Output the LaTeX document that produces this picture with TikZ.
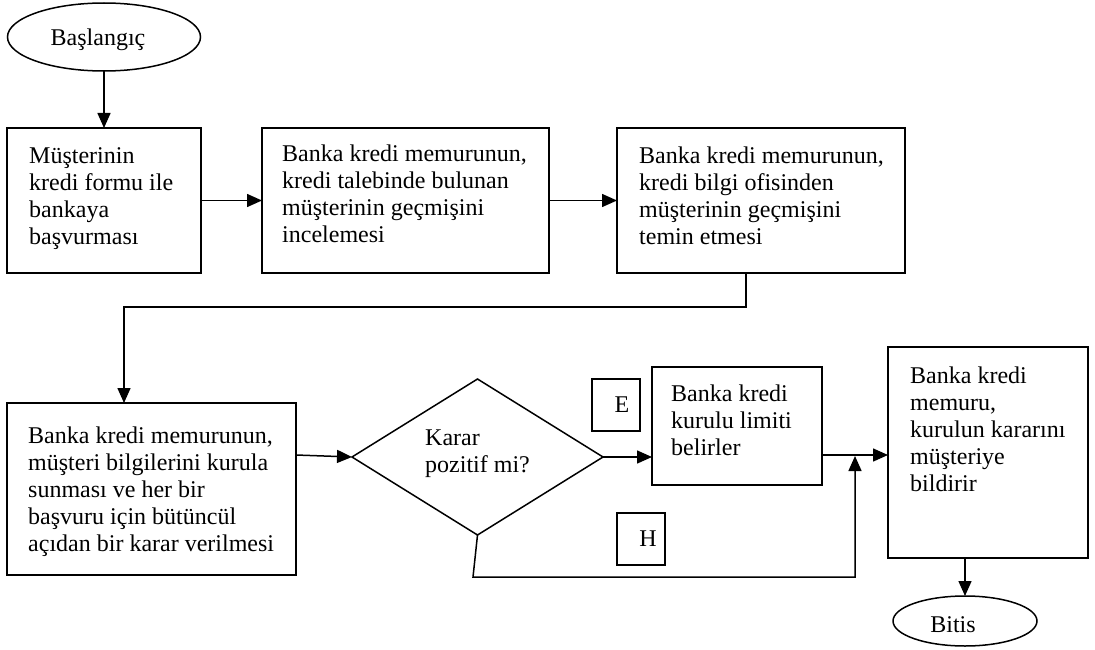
\documentclass[tikz,border=0pt]{standalone}
\usepackage{fontspec}
\setmainfont{Liberation Serif}
\usetikzlibrary{shapes.geometric,arrows.meta,calc}
\begin{document}
\begin{tikzpicture}[x=1pt,y=-1pt,
  every node/.style={font=\fontsize{24}{27}\selectfont},
  box/.style={draw, line width=1.5pt, rectangle, inner sep=0pt, outer sep=0pt, anchor=north west},
  txt/.style={anchor=north west, inner sep=0pt, align=left},
  oval/.style={draw, line width=1.5pt, ellipse, inner sep=0pt, outer sep=0pt},
  arr/.style={line width=1.5pt, -{Triangle[length=15pt,width=13pt]}},
  ln/.style={line width=1.5pt}
]
\useasboundingbox (0,0) rectangle (1095,650);
\fill[white] (0,0) rectangle (1095,650);

% start / end
\node[oval, minimum width=193pt, minimum height=68pt] (start) at (104,37) {};
\node[inner sep=0pt] (startt) at (98,40) {Başlangıç};
\node[oval, minimum width=144pt, minimum height=50pt] (bitis) at (965,621) {};
\node[inner sep=0pt] (bitist) at (953,625) {Bitis};

% top row
\node[box, minimum width=194pt, minimum height=145pt] (b1) at (7,128) {};
\node[txt] (b1t) at ($(b1.north west)+(22,19)$) {Müşterinin\\kredi formu ile\\bankaya\\başvurması};
\node[box, minimum width=287pt, minimum height=145pt] (b2) at (262,128) {};
\node[txt] (b2t) at ($(b2.north west)+(20,17)$) {Banka kredi memurunun,\\kredi talebinde bulunan\\müşterinin geçmişini\\incelemesi};
\node[box, minimum width=288pt, minimum height=145pt] (b3) at (617,128) {};
\node[txt] (b3t) at ($(b3.north west)+(22,19)$) {Banka kredi memurunun,\\kredi bilgi ofisinden\\müşterinin geçmişini\\temin etmesi};

% bottom row
\node[box, minimum width=289pt, minimum height=172pt] (b4) at (7,403) {};
\node[txt] (b4t) at ($(b4.north west)+(21,24)$) {Banka kredi memurunun,\\müşteri bilgilerini kurula\\sunması ve her bir\\başvuru için bütüncül\\açıdan bir karar verilmesi};
\node[draw, line width=1.5pt, diamond, inner sep=0pt, outer sep=0pt, minimum width=251pt, minimum height=156pt] (dia) at (477.5,457) {};
\node[txt] (diat) at (425,430) {Karar\\pozitif mi?};
\node[box, minimum width=48pt, minimum height=52pt] (ebox) at (592,379) {};
\node[inner sep=0pt] (et) at ($(ebox.center)+(6,0)$) {E};
\node[box, minimum width=48pt, minimum height=52pt] (hbox) at (617,513) {};
\node[inner sep=0pt] (ht) at ($(hbox.center)+(7,0)$) {H};
\node[box, minimum width=170pt, minimum height=118pt] (b5) at (652,367) {};
\node[txt] (b5t) at ($(b5.north west)+(19,18)$) {Banka kredi\\kurulu limiti\\belirler};
\node[box, minimum width=200pt, minimum height=211pt] (b6) at (888,347) {};
\node[txt] (b6t) at ($(b6.north west)+(22,20)$) {Banka kredi\\memuru,\\kurulun kararını\\müşteriye\\bildirir};

% connectors
\coordinate (c1) at ($(b3.south west)+(129,0)$);
\coordinate (c2) at ($(b4.north west)+(117,0)$);
\coordinate (c3) at ($(b4.north east)+(0,52)$);
\coordinate (c4) at ($(b5.north east)+(0,88)$);
\coordinate (c5) at (473,577);
\coordinate (c6) at (855,456);
\coordinate (c7) at ($(b6.south west)+(77,0)$);

\draw[arr] (start.south) -- (b1.north);
\draw[arr] (b1.east) -- (b2.west);
\draw[arr] (b2.east) -- (b3.west);
\draw[arr] (c1) -- ++(0,34) -| (c2);
\draw[arr] (c3) -- (dia.west);
\draw[arr] (dia.east) -- (dia.east -| b5.west);
\draw[arr] (c4) -- (c4 -| b6.west);
\draw[arr] (dia.south) -- (c5) -| (c6);
\draw[arr] (c7) -- (bitis.north);
\end{tikzpicture}
\end{document}
